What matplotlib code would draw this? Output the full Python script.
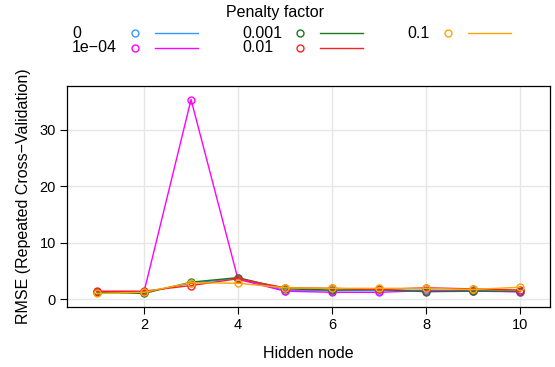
import matplotlib
matplotlib.use("Agg")
import matplotlib.pyplot as plt
from matplotlib.lines import Line2D

hidden_nodes = [1, 2, 3, 4, 5, 6, 7, 8, 9, 10]
penalty_labels = ["0", "1e\u221204", "0.001", "0.01", "0.1"]
penalty_colors = ["#3399ff", "#ff00ff", "#1a7a1a", "#ff2020", "#ffa500"]

rmse_0 = [1.3, 1.2, 2.8, 3.7, 1.5, 1.5, 1.5, 1.6, 1.5, 1.3]
rmse_1e4 = [1.3, 1.3, 35.3, 3.5, 1.4, 1.2, 1.2, 1.5, 1.4, 1.3]
rmse_001 = [1.2, 1.0, 3.0, 3.8, 1.8, 1.6, 1.7, 1.3, 1.4, 1.4]
rmse_01 = [1.4, 1.4, 2.4, 3.6, 2.0, 1.9, 1.7, 2.0, 1.8, 1.6]
rmse_1 = [1.0, 1.2, 2.9, 2.8, 2.0, 1.9, 1.9, 1.9, 1.7, 2.1]
series = [rmse_0, rmse_1e4, rmse_001, rmse_01, rmse_1]

plt.rcParams.update({"font.family": ["Liberation Sans", "DejaVu Sans"]})

W, H = 555, 367
fig = plt.figure(figsize=(W / 100, H / 100), dpi=100)
ax = fig.add_axes([67 / W, 1 - 307 / H, (550 - 67) / W, (307 - 86) / H])

for vals, color in zip(series, penalty_colors):
    ax.plot(hidden_nodes, vals, color=color, linewidth=1.0, marker="o",
            markersize=5, markerfacecolor="none", markeredgecolor=color,
            markeredgewidth=1.0, zorder=3)

ax.set_xlim(0.36, 10.64)
ax.set_ylim(-1.4, 37.7)
ax.set_xticks([2, 4, 6, 8, 10])
ax.set_yticks([0, 10, 20, 30])
ax.grid(color="#e6e6e6", linewidth=1.0)
ax.set_axisbelow(True)
for s in ax.spines.values():
    s.set_color("black")
    s.set_linewidth(0.9)
ax.tick_params(direction="out", length=5, width=0.8, labelsize=10.5,
               colors="black", pad=3)
ax.set_xlabel("Hidden node", fontsize=11.5, labelpad=10)
ax.set_ylabel("RMSE (Repeated Cross\u2212Validation)", fontsize=11.5, labelpad=6)

# legend on top, lattice style
fig.text(275 / W, 1 - 13 / H, "Penalty factor", ha="center", va="center",
         fontsize=11.5)
cols = [(72, 135, 155), (242, 300, 320), (407, 448, 468)]
rows = [33, 48]
for i, (label, color) in enumerate(zip(penalty_labels, penalty_colors)):
    c, r = divmod(i, 2)
    tx, mx, lx = cols[c]
    y = 1 - rows[r] / H
    fig.text(tx / W, y, label, ha="left", va="center", fontsize=11.5)
    fig.add_artist(Line2D([mx / W], [y], marker="o", markersize=5,
                          markerfacecolor="none", markeredgecolor=color,
                          markeredgewidth=1.0, transform=fig.transFigure))
    fig.add_artist(Line2D([lx / W, (lx + 43) / W], [y, y], color=color,
                          linewidth=1.0, transform=fig.transFigure))

fig.savefig("out.png", dpi=100)
